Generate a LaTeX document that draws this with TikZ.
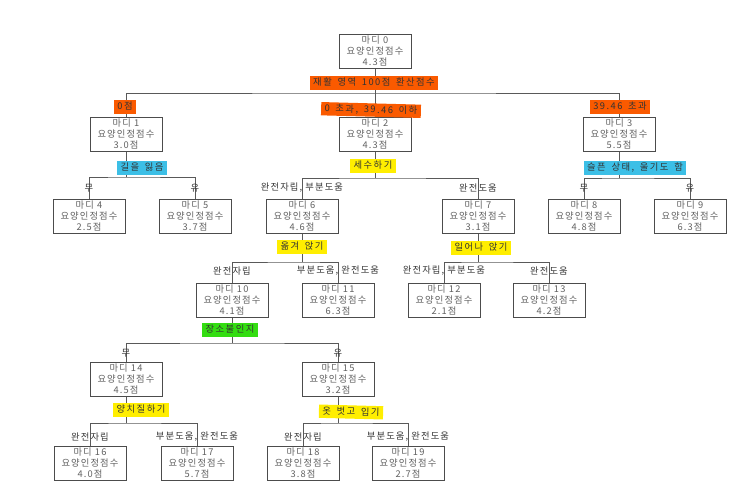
\documentclass[tikz,border=0pt]{standalone}
\usepackage{fontspec}
\setmainfont{Noto Sans CJK KR}[LetterSpace=12]
\newfontfamily\hlfont{Noto Sans CJK KR}[LetterSpace=16,WordSpace=1.6]
\usetikzlibrary{backgrounds}
\definecolor{hlorange}{HTML}{FA5A00}
\definecolor{hlcyan}{HTML}{3CBFE6}
\definecolor{hlyellow}{HTML}{FFEE00}
\definecolor{hlgreen}{HTML}{33DD11}
\tikzset{
  box/.style={draw=black!70, line width=0.8pt, fill=white, minimum width=72pt, minimum height=34pt,
    inner sep=0pt, align=center, text=black!62, font=\fontsize{9.3}{10.6}\selectfont},
  hl/.style={inner xsep=3.5pt, inner ysep=2pt, text height=7.5pt, text depth=1.8pt, text=black!80,
    font=\hlfont\fontsize{9.3}{10}\selectfont},
  br/.style={inner sep=1pt, text=black!80, font=\fontsize{9.3}{10}\selectfont},
  conn/.style={draw=black!65, line width=0.8pt}
}
\begin{document}
\begin{tikzpicture}[x=1pt,y=-1pt]
\useasboundingbox (0,0) rectangle (741,497);
% boxes
\node[box] (n0) at (375,51) {마디 0\\요양인정점수\\4.3점};
\node[box] (n1) at (126,134) {마디 1\\요양인정점수\\3.0점};
\node[box] (n2) at (375,134) {마디 2\\요양인정점수\\4.3점};
\node[box] (n3) at (619,134) {마디 3\\요양인정점수\\5.5점};
\node[box] (n4) at (89,216) {마디 4\\요양인정점수\\2.5점};
\node[box] (n5) at (195,216) {마디 5\\요양인정점수\\3.7점};
\node[box] (n6) at (302,216) {마디 6\\요양인정점수\\4.6점};
\node[box] (n7) at (478,216) {마디 7\\요양인정점수\\3.1점};
\node[box] (n8) at (584,216) {마디 8\\요양인정점수\\4.8점};
\node[box] (n9) at (690,216) {마디 9\\요양인정점수\\6.3점};
\node[box] (n10) at (232,300) {마디 10\\요양인정점수\\4.1점};
\node[box] (n11) at (338,300) {마디 11\\요양인정점수\\6.3점};
\node[box] (n12) at (444,300) {마디 12\\요양인정점수\\2.1점};
\node[box] (n13) at (549,300) {마디 13\\요양인정점수\\4.2점};
\node[box] (n14) at (126,379) {마디 14\\요양인정점수\\4.5점};
\node[box] (n15) at (338,379) {마디 15\\요양인정점수\\3.2점};
\node[box] (n16) at (90,463) {마디 16\\요양인정점수\\4.0점};
\node[box] (n17) at (197,463) {마디 17\\요양인정점수\\5.7점};
\node[box] (n18) at (303,463) {마디 18\\요양인정점수\\3.8점};
\node[box] (n19) at (408,463) {마디 19\\요양인정점수\\2.7점};
% junctions
\coordinate (j0) at (375,93);
\coordinate (j1) at (126,177);
\coordinate (j2) at (375,178);
\coordinate (j3) at (619,178);
\coordinate (j6) at (302,262);
\coordinate (j7) at (478,262);
\coordinate (j10) at (232,343);
\coordinate (j14) at (126,423);
\coordinate (j15) at (338,423);
% split labels
\node[hl, fill=hlorange] (s0) at (374,83) {재활 영역 100점 환산점수};
\node[hl, fill=hlcyan] (s1) at (142,168) {길을 잃음};
\node[hl, fill=hlyellow] (s2) at (373,166) {세수하기};
\node[hl, fill=hlcyan] (s3) at (635,168) {슬픈 상태, 울기도 함};
\node[hl, fill=hlyellow] (s6) at (302,247) {옮겨 앉기};
\node[hl, fill=hlyellow] (s7) at (481,248) {일어나 앉기};
\node[hl, fill=hlgreen] (s10) at (230,330) {장소불인지};
\node[hl, fill=hlyellow] (s14) at (141,410) {양치질하기};
\node[hl, fill=hlyellow, rotate=-1.5] (s15) at (351,412) {옷 벗고 입기};
% branch labels
\node[hl, fill=hlorange] (b1) at (125,107) {0점};
\node[hl, fill=hlorange, rotate=-1.5] (b2) at (371,110) {0 초과, 39.46 이하};
\node[hl, fill=hlorange] (b3) at (620,107) {39.46 초과};
\node[br] (b4) at (89,188) {무};
\node[br] (b5) at (195,188) {유};
\node[br] (b6) at (302,188) {완전자립, 부분도움};
\node[br] (b7) at (478,188) {완전도움};
\node[br] (b8) at (584,188) {무};
\node[br] (b9) at (690,188) {유};
\node[br] (b10) at (232,271) {완전자립};
\node[br] (b11) at (338,271) {부분도움, 완전도움};
\node[br] (b12) at (444,271) {완전자립, 부분도움};
\node[br] (b13) at (549,271) {완전도움};
\node[br] (b14) at (126,353) {무};
\node[br] (b15) at (338,353) {유};
\node[br] (b16) at (90,437) {완전자립};
\node[br] (b17) at (197,437) {부분도움, 완전도움};
\node[br] (b18) at (303,437) {완전자립};
\node[br] (b19) at (408,437) {부분도움, 완전도움};
% connectors
\begin{scope}[on background layer]
\draw[conn] (n0.south) -- (j0);
\draw[conn] (n1.north) |- (j0) -| (n3.north);
\draw[conn] (j0) -- (n2.north);
\draw[conn] (n1.south) -- (j1);
\draw[conn] (n4.north) |- (j1) -| (n5.north);
\draw[conn] (n2.south) -- (j2);
\draw[conn] (n6.north) |- (j2) -| (n7.north);
\draw[conn] (n3.south) -- (j3);
\draw[conn] (n8.north) |- (j3) -| (n9.north);
\draw[conn] (n6.south) -- (j6);
\draw[conn] (n10.north) |- (j6) -| (n11.north);
\draw[conn] (n7.south) -- (j7);
\draw[conn] (n12.north) |- (j7) -| (n13.north);
\draw[conn] (n10.south) -- (j10);
\draw[conn] (n14.north) |- (j10) -| (n15.north);
\draw[conn] (n14.south) -- (j14);
\draw[conn] (n16.north) |- (j14) -| (n17.north);
\draw[conn] (n15.south) -- (j15);
\draw[conn] (n18.north) |- (j15) -| (n19.north);
\end{scope}
\end{tikzpicture}
\end{document}
